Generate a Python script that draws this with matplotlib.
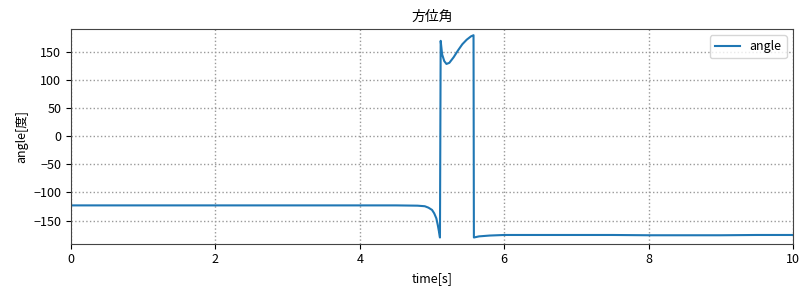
import matplotlib
matplotlib.use("Agg")
import matplotlib.pyplot as plt

plt.rcParams["font.family"] = ["Noto Sans CJK JP", "DejaVu Sans"]
plt.rcParams["axes.unicode_minus"] = True

# azimuth angle trace
time = [0.0, 1.0, 2.0, 3.0, 4.0, 4.5, 4.8, 4.9, 4.95, 5.0, 5.03, 5.06, 5.08,
        5.10, 5.11, 5.12, 5.14, 5.17, 5.20, 5.24, 5.30, 5.36, 5.42, 5.48,
        5.54, 5.575, 5.58, 5.65, 5.8, 6.0, 6.5, 7.0, 7.5, 8.0, 8.5, 9.0,
        9.5, 10.0]
angle = [-123.0, -123.0, -123.0, -123.0, -123.0, -123.0, -123.5, -124.5,
         -127.0, -131.0, -137.0, -146.0, -158.0, -172.0, -180.0, 169.0,
         145.0, 133.0, 128.0, 130.0, 140.0, 152.0, 163.0, 171.0, 177.0,
         179.0, -180.0, -178.0, -176.5, -175.5, -175.5, -175.5, -175.5,
         -176.0, -176.0, -176.0, -175.5, -175.5]

fig = plt.figure(figsize=(8.1, 2.91), dpi=100)
ax = fig.add_axes([0.0877, 0.1625, 0.8913, 0.7378])

ax.plot(time, angle, color="#1f77b4", linewidth=1.5, label="angle")
ax.set_xlim(0, 10)
ax.set_ylim(-191, 190)
ax.set_yticks([-150, -100, -50, 0, 50, 100, 150])
ax.set_xticks([0, 2, 4, 6, 8, 10])
ax.grid(True, linestyle=":", color="#999999", linewidth=1.0)
for s in ax.spines.values():
    s.set_color("#444444")
ax.set_title("方位角", fontsize=10)
ax.set_xlabel("time[s]", fontsize=9)
ax.set_ylabel("angle[度]", fontsize=9)
ax.tick_params(labelsize=9)
ax.legend(loc="upper right", fontsize=9)

fig.savefig("out.png", dpi=100)
